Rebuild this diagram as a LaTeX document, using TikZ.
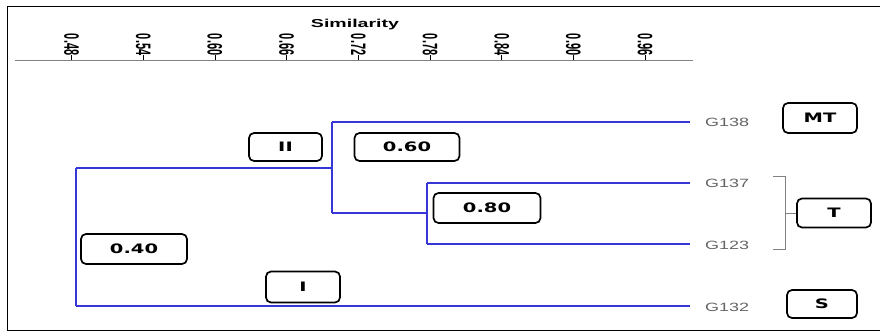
\documentclass[tikz,border=0pt]{standalone}
\usepackage{fontspec}
\usepackage{graphicx}
\newfontfamily\boxfont[FakeStretch=1.5]{DejaVu Sans}
\newfontfamily\gfont[FakeStretch=1.5]{Liberation Sans}
\newfontfamily\simfont[FakeStretch=1.7]{Liberation Sans}
\newfontfamily\tickfont{Liberation Sans}
\definecolor{dendro}{RGB}{55,55,215}
\definecolor{graytext}{RGB}{100,100,100}
\definecolor{axisgray}{RGB}{130,130,130}
\begin{document}
\begin{tikzpicture}[x=1pt,y=-1pt,
  lbox/.style={draw=black,line width=1.7pt,rounded corners=5pt,inner sep=0pt,
    font=\boxfont\bfseries\fontsize{13}{15}\selectfont},
  leaf/.style={anchor=west,inner sep=0pt,text=graytext,font=\gfont\fontsize{12}{14}\selectfont},
  dline/.style={draw=dendro,line width=2pt},
  ticklab/.style={inner sep=0pt,anchor=south,font=\tickfont\bfseries\fontsize{11}{13}\selectfont},
  frame/.style={draw=black,line width=1pt}]
\useasboundingbox (0,0) rectangle (880,332);
% frame
\draw[frame] (880,6) -- (7,6) -- (7,330) -- (880,330);
% axis
\draw[axisgray,line width=0.9pt] (15,60) -- (693,60);
\node[font=\simfont\bfseries\fontsize{11.5}{13}\selectfont,inner sep=0pt] (sim) at (355,25) {Similarity};
\foreach \v [count=\i from 0] in {0.48,0.54,0.60,0.66,0.72,0.78,0.84,0.90,0.96}{
  \draw[black,line width=0.8pt] (71.5+71.7*\i,55) -- (71.5+71.7*\i,60);
  \node[ticklab] (t\i) at (71.5+71.7*\i,55.5) {\rotatebox{-90}{\scalebox{1}[1.9]{\v}}};
}
% leaves
\node[leaf] (g138) at (705,122) {G138};
\node[leaf] (g137) at (705,183) {G137};
\node[leaf] (g123) at (705,245) {G123};
\node[leaf] (g132) at (705,307) {G132};
% junction coordinates
\coordinate (root) at (76,168);
\coordinate (rootb) at (76,306);
\coordinate (c2) at (332,168);
\coordinate (c2t) at (332,122);
\coordinate (c2b) at (332,213);
\coordinate (c3) at (427,213);
\coordinate (c3t) at (427,183);
\coordinate (c3b) at (427,244);
\coordinate (e138) at (690,122);
\coordinate (e137) at (690,183);
\coordinate (e123) at (690,244);
\coordinate (e132) at (690,306);
% dendrogram
\draw[dline] (root) -- (rootb);
\draw[dline] (rootb) -- (e132);
\draw[dline] (root) -- (c2);
\draw[dline] (c2t) -- (c2b);
\draw[dline] (c2t) -- (e138);
\draw[dline] (c2b) -- (c3);
\draw[dline] (c3t) -- (c3b);
\draw[dline] (c3t) -- (e137);
\draw[dline] (c3b) -- (e123);
% boxes
\node[lbox,minimum width=74pt,minimum height=30pt] (mt) at (820,118) {MT};
\node[lbox,minimum width=74pt,minimum height=29pt] (tt) at (834,213) {T};
\node[lbox,minimum width=70pt,minimum height=28pt] (ss) at (822,304) {S};
\node[lbox,minimum width=107pt,minimum height=30pt] (b80) at (487,208) {0.80};
\node[lbox,minimum width=105pt,minimum height=28pt] (b60) at (407,147) {0.60};
\node[lbox,minimum width=73pt,minimum height=28pt] (bII) at (285.5,147) {II};
\node[lbox,minimum width=106pt,minimum height=30pt] (b40) at (134,249) {0.40};
\node[lbox,minimum width=74pt,minimum height=31pt] (bI) at (303,287) {I};
% bracket
\coordinate (brt) at (773,176);
\coordinate (brb) at (773,249);
\draw[axisgray,line width=0.9pt] (brt) -- (785,176) -- (785,249) -- (brb);
\draw[axisgray,line width=0.9pt] (785,213) -- (tt.west);
\end{tikzpicture}
\end{document}
